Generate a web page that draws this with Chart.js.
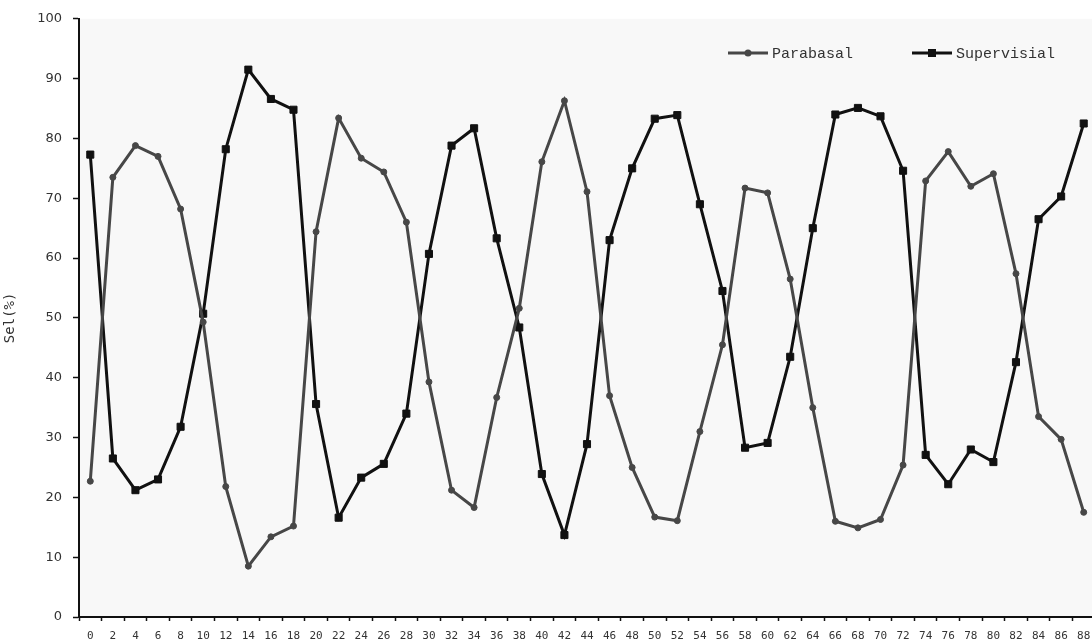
<!DOCTYPE html>
<html>
<head>
<meta charset="utf-8">
<script src="https://cdn.jsdelivr.net/npm/chart.js@4/dist/chart.umd.min.js"></script>
<style>
  html, body { margin: 0; padding: 0; background: #ffffff; overflow: hidden; }
  #wrap { width: 1101px; height: 641px; }
</style>
</head>
<body>
<div id="wrap"><canvas id="selChart" width="1101" height="641"></canvas></div>
<script>
// x categories (tick labels)
const days = ['0', '2', '4', '6', '8', '10', '12', '14', '16', '18', '20', '22', '24', '26', '28',
    '30', '32', '34', '36', '38', '40', '42', '44', '46', '48', '50', '52', '54', '56', '58',
    '60', '62', '64', '66', '68', '70', '72', '74', '76', '78', '80', '82', '84', '86', '88'];

// Parabasal cells (%)
const parabasal = [22.7, 73.5, 78.8, 77.0, 68.2, 49.3, 21.8, 8.5, 13.4, 15.2, 64.4, 83.4, 76.7, 74.4, 66.0,
    39.3, 21.2, 18.3, 36.7, 51.6, 76.1, 86.3, 71.1, 37.0, 25.0, 16.7, 16.1, 31.0, 45.5, 71.7,
    70.9, 56.5, 35.0, 16.0, 14.9, 16.3, 25.4, 72.9, 77.8, 72.0, 74.1, 57.4, 33.5, 29.7, 17.5];

// Supervisial cells (%)
const supervisial = [77.3, 26.5, 21.2, 23.0, 31.8, 50.7, 78.2, 91.5, 86.6, 84.8, 35.6, 16.6, 23.3, 25.6, 34.0,
    60.7, 78.8, 81.7, 63.3, 48.4, 23.9, 13.7, 28.9, 63.0, 75.0, 83.3, 83.9, 69.0, 54.5, 28.3,
    29.1, 43.5, 65.0, 84.0, 85.1, 83.7, 74.6, 27.1, 22.2, 28.0, 25.9, 42.6, 66.5, 70.3, 82.5];

const yTicks = [0, 10, 20, 30, 40, 50, 60, 70, 80, 90, 100];

const textColor = '#333333';

// light grey plot background
const plotBg = {
    id: 'plotBg',
    beforeDraw(chart) {
        const { ctx, chartArea } = chart;
        ctx.save();
        ctx.fillStyle = '#f8f8f8';
        ctx.fillRect(chartArea.left, chartArea.top, chartArea.right - chartArea.left, chartArea.bottom - chartArea.top);
        ctx.restore();
    }
};

// legend drawn as line + marker, inside the plot
const lineLegend = {
    id: 'lineLegend',
    afterDraw(chart) {
        const ctx = chart.ctx;
        const starts = [728, 912];
        const y = 53;
        chart.data.datasets.forEach((ds, i) => {
            const x0 = starts[i];
            ctx.save();
            ctx.strokeStyle = ds.borderColor;
            ctx.lineWidth = ds.borderWidth;
            ctx.beginPath();
            ctx.moveTo(x0, y);
            ctx.lineTo(x0 + 40, y);
            ctx.stroke();
            ctx.fillStyle = ds.pointBackgroundColor;
            if (ds.pointStyle === 'rect') {
                ctx.fillRect(x0 + 16, y - 4, 8, 8);
            } else {
                ctx.beginPath();
                ctx.arc(x0 + 20, y, 3.5, 0, Math.PI * 2);
                ctx.fill();
            }
            ctx.fillStyle = textColor;
            ctx.font = '15px "Liberation Mono", monospace';
            ctx.textBaseline = 'middle';
            ctx.fillText(ds.label, x0 + 44, y + 1);
            ctx.restore();
        });
    }
};

const ctx = document.getElementById('selChart').getContext('2d');

new Chart(ctx, {
    type: 'line',
    data: {
        labels: days,
        datasets: [{
            label: 'Parabasal',
            data: parabasal,
            borderColor: '#474747',
            borderWidth: 3,
            pointStyle: 'circle',
            pointRadius: 3,
            pointBorderWidth: 1,
            pointBackgroundColor: '#474747',
            pointBorderColor: '#474747',
            tension: 0,
            fill: false
        }, {
            label: 'Supervisial',
            data: supervisial,
            borderColor: '#111111',
            borderWidth: 3,
            pointStyle: 'rect',
            pointRadius: 5,
            pointBorderWidth: 1,
            pointBackgroundColor: '#111111',
            pointBorderColor: '#111111',
            tension: 0,
            fill: false
        }]
    },
    options: {
        responsive: false,
        animation: false,
        layout: { padding: { top: 17, right: 0, left: 0, bottom: 0 } },
        plugins: {
            legend: { display: false },
            tooltip: { enabled: false }
        },
        scales: {
            x: {
                type: 'category',
                offset: true,
                afterFit: (scale) => { scale.height = 24; },
                grid: {
                    offset: true,
                    drawOnChartArea: false,
                    drawTicks: true,
                    tickLength: 4,
                    tickWidth: 1.5,
                    tickColor: '#111111'
                },
                border: { color: '#111111', width: 2 },
                ticks: {
                    autoSkip: false,
                    maxRotation: 0,
                    minRotation: 0,
                    padding: 9,
                    color: textColor,
                    font: { family: '"DejaVu Sans Mono", monospace', size: 11 }
                }
            },
            y: {
                min: 0,
                max: 100,
                afterFit: (scale) => { scale.width = 79; },
                afterBuildTicks: (scale) => { scale.ticks = yTicks.map(v => ({ value: v })); },
                title: {
                    display: true,
                    text: 'Sel(%)',
                    color: textColor,
                    padding: { top: 2, bottom: 0 },
                    font: { family: '"DejaVu Sans Mono", monospace', size: 14 }
                },
                grid: {
                    drawOnChartArea: false,
                    drawTicks: true,
                    tickLength: 6,
                    tickWidth: 1.5,
                    tickColor: '#111111'
                },
                border: { color: '#111111', width: 2 },
                ticks: {
                    padding: 11,
                    color: textColor,
                    font: { family: '"DejaVu Sans", sans-serif', size: 13 }
                }
            }
        }
    },
    plugins: [plotBg, lineLegend]
});
</script>
</body>
</html>
